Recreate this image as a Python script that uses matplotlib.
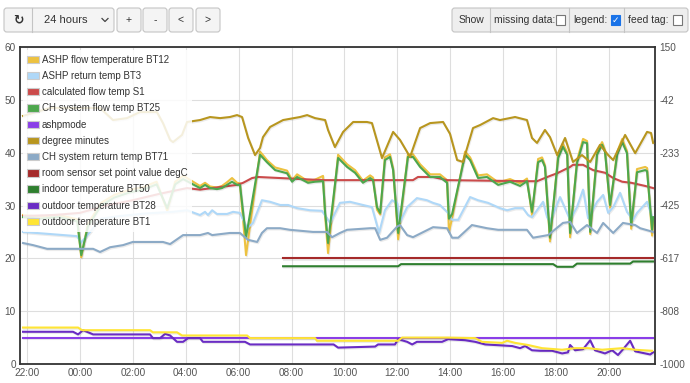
import matplotlib
matplotlib.use("Agg")
import matplotlib.pyplot as plt
import matplotlib.patheffects as pe
from matplotlib.lines import Line2D
from matplotlib.patches import FancyBboxPatch, Patch, Rectangle

plt.rcParams["font.family"] = ["Liberation Sans", "DejaVu Sans"]

# time is in hours after 22:00 of the first day
x_ticks = [0, 2, 4, 6, 8, 10, 12, 14, 16, 18, 20, 22]
x_labels = ["22:00", "00:00", "02:00", "04:00", "06:00", "08:00",
            "10:00", "12:00", "14:00", "16:00", "18:00", "20:00"]
left_ticks = [0, 10, 20, 30, 40, 50, 60]
right_ticks = [-1000, -808, -617, -425, -233, -42, 150]

# flow temperatures (BT12 / BT25) share one time base
flow_t = [-0.15, 0.5, 1.2, 1.9, 2.05, 2.3, 2.8, 3.3, 3.9, 4.4, 4.9, 5.3, 5.6, 5.9,
          6.05, 6.54, 6.73, 6.92, 7.18, 7.37, 7.56, 7.75, 7.94, 8.05, 8.28, 8.81,
          9.07, 9.38, 9.83, 10.02, 10.21, 10.62, 10.89, 11.19, 11.27, 11.38, 11.76,
          12.1, 12.4, 12.7, 12.97, 13.08, 13.23, 13.35, 13.53, 13.72, 13.84, 14.03,
          14.4, 14.59, 14.86, 15.24, 15.61, 15.88, 15.95, 16.07, 16.56, 16.75, 17.05,
          17.39, 17.81, 18.26, 18.64, 18.9, 19.09, 19.32, 19.47, 19.58, 19.77, 20.08,
          20.26, 20.42, 20.53, 20.79, 21.02, 21.17, 21.29, 21.55, 21.74, 21.85, 22.04,
          22.31, 22.5, 22.68, 22.84, 23.06, 23.37, 23.44, 23.63, 23.67]
bt25 = [27.8, 27.5, 27.8, 27.0, 20.6, 26.0, 30.0, 31.5, 32.5, 33.0, 34.0, 29.5, 34.0, 35.0,
        34.6, 33.3, 33.9, 33.3, 33.1, 33.3, 33.9, 34.5, 33.9, 33.9, 24.0, 39.6,
        38.2, 36.7, 36.1, 34.5, 35.4, 34.3, 34.5, 34.6, 28.6, 22.9, 39.0,
        37.3, 36.2, 34.3, 35.2, 34.8, 29.7, 28.6, 38.6, 39.2, 36.7, 24.8,
        39.2, 39.2, 37.3, 35.4, 35.4, 34.3, 27.5, 28.4, 39.6, 38.6, 35.2,
        35.4, 33.9, 34.5, 33.7, 34.6, 28.8, 38.2, 38.6, 37.3, 23.9, 39.0,
        41.1, 39.6, 24.8, 38.0, 42.0, 41.8, 25.0, 39.6, 41.5, 40.1, 30.1,
        39.6, 42.0, 39.9, 26.3, 36.3, 36.7, 36.5, 25.4, 27.8]
bt12 = [28.2, 27.9, 28.2, 27.4, 20.2, 26.5, 30.5, 32.0, 33.0, 33.5, 34.5, 29.0, 34.5, 35.6,
        35.2, 33.7, 34.3, 33.6, 33.4, 33.7, 34.4, 35.2, 34.3, 34.2, 20.6, 40.2,
        38.6, 37.2, 36.6, 34.8, 35.9, 34.6, 34.9, 35.6, 28.0, 21.0, 39.6,
        37.8, 36.7, 34.7, 35.7, 35.3, 29.2, 28.3, 39.1, 39.7, 37.0, 23.6,
        39.7, 39.7, 37.8, 35.9, 35.9, 34.8, 25.0, 27.6, 40.2, 39.1, 35.7,
        35.9, 34.4, 35.0, 34.2, 35.1, 28.2, 38.8, 39.1, 37.6, 23.2, 39.5,
        41.7, 40.0, 24.0, 38.5, 42.6, 42.2, 24.6, 40.1, 42.0, 40.5, 29.6,
        40.1, 42.6, 40.3, 25.6, 36.9, 37.3, 37.1, 24.3, 27.0]

bt3_t = [-0.15, 1.89, 2.05, 2.38, 2.8, 3.5, 4.5, 5.5, 6.05, 6.54, 6.73, 6.84, 7.0, 7.18,
         7.56, 7.79, 8.05, 8.32, 8.54, 8.88, 9.19, 9.57, 9.87, 10.21, 10.7, 11.15,
         11.46, 11.83, 12.21, 12.7, 13.04, 13.31, 13.53, 13.8, 13.99, 14.1, 14.37,
         14.74, 15.12, 15.35, 15.61, 15.92, 16.07, 16.3, 16.75, 17.05, 17.43, 17.88,
         18.15, 18.45, 18.75, 18.94, 19.09, 19.51, 19.66, 19.77, 20.15, 20.53, 20.79,
         21.02, 21.21, 21.55, 21.78, 21.97, 22.16, 22.42, 22.68, 22.91, 23.06, 23.44,
         23.63]
bt3 = [25.0, 24.2, 23.0, 25.0, 27.5, 28.0, 28.5, 28.8, 29.1, 28.2, 28.8, 28.2, 29.1, 28.4,
       28.4, 28.8, 28.6, 25.7, 26.7, 31.0, 30.7, 30.1, 30.1, 29.5, 29.1, 29.0,
       26.7, 30.5, 30.7, 30.1, 29.7, 24.8, 29.1, 31.0, 30.5, 26.9, 29.7,
       31.4, 31.0, 30.5, 30.1, 28.6, 27.3, 27.3, 31.6, 31.0, 30.5, 29.5,
       29.1, 29.5, 29.5, 28.2, 27.8, 30.7, 27.8, 26.9, 31.6, 27.3, 29.7,
       33.0, 27.6, 30.7, 32.0, 28.6, 29.7, 32.4, 28.8, 27.3, 28.6, 30.7,
       27.8]

bt71_t = [-0.15, 0.23, 0.76, 2.5, 2.76, 3.14, 3.63, 4.0, 5.14, 5.41, 5.9, 6.54, 6.84, 7.0,
          7.67, 8.05, 8.36, 8.7, 8.88, 9.07, 9.57, 9.94, 10.81, 11.34, 11.53, 11.83,
          12.1, 12.97, 13.16, 13.35, 13.61, 13.99, 14.1, 14.37, 14.59, 15.35, 15.88,
          16.07, 16.3, 16.82, 17.39, 17.81, 18.9, 19.13, 19.7, 20.26, 20.53, 20.79,
          21.17, 21.55, 21.78, 22.16, 22.53, 22.99, 23.18, 23.67]
bt71 = [22.9, 22.5, 21.8, 21.8, 21.2, 22.1, 22.5, 23.1, 23.1, 22.7, 24.4, 24.4, 24.8, 24.4,
        24.8, 24.8, 23.5, 23.1, 24.8, 25.7, 25.7, 25.4, 25.0, 25.0, 24.0, 24.8,
        25.4, 25.7, 25.7, 23.5, 23.9, 26.0, 26.3, 24.4, 24.0, 25.9, 25.7,
        23.9, 23.9, 26.3, 25.7, 25.4, 25.4, 23.9, 24.4, 26.7, 26.9, 24.8,
        26.3, 24.8, 26.7, 24.8, 26.7, 26.3, 25.7, 25.0]

s1_t = [-0.15, 1.0, 2.0, 3.0, 4.0, 5.0, 6.05, 6.54, 7.3, 7.94, 8.17, 8.51, 8.73, 11.19,
        14.59, 14.78, 15.35, 15.88, 18.9, 19.28, 19.77, 20.04, 20.53, 20.64, 21.02,
        21.4, 21.85, 22.16, 22.5, 22.84, 23.37, 23.67]
s1 = [28.0, 28.2, 28.6, 30.0, 31.0, 32.2, 33.3, 33.0, 33.5, 33.9, 34.3, 35.2, 35.4, 34.8,
      34.8, 35.4, 35.4, 34.8, 34.6, 34.6, 35.6, 36.1, 37.3, 37.7, 37.7,
      36.7, 36.2, 35.2, 34.5, 34.3, 33.7, 33.3]

dm_t = [-0.15, 0.87, 2.76, 3.25, 3.78, 4.27, 4.91, 5.14, 5.41, 5.52, 5.86, 6.05, 6.54,
        6.92, 7.3, 7.67, 7.94, 8.13, 8.36, 8.62, 8.81, 8.92, 9.19, 9.68, 10.32, 10.59,
        10.89, 11.27, 11.38, 11.64, 11.95, 12.33, 12.85, 13.04, 13.42, 13.84, 14.1,
        14.48, 14.86, 15.24, 15.73, 15.99, 16.26, 16.48, 16.86, 17.13, 17.62, 17.88,
        18.45, 18.9, 19.09, 19.28, 19.58, 19.77, 20.04, 20.34, 20.64, 20.98, 21.29,
        21.66, 21.97, 22.16, 22.61, 22.99, 23.44, 23.59, 23.67]
degree_minutes = [-100, -71, -71, -115, -108, -86, -86, -126, -187, -195, -169, -122, -115,
                  -104, -108, -104, -97, -104, -180, -242, -216, -177, -140, -115, -104, -97,
                  -108, -115, -151, -213, -158, -122, -122, -126, -253, -158, -187,
                  -249, -144, -126, -122, -165, -260, -267, -144, -133, -108, -115,
                  -104, -115, -180, -198, -151, -177, -242, -180, -267, -242, -267,
                  -205, -242, -260, -169, -235, -158, -162, -198]

setpoint_t = [9.68, 23.67]
setpoint = [20.0, 20.0]

bt50_t = [9.68, 14.03, 14.14, 19.89, 20.04, 20.64, 20.79, 22.8, 22.91, 23.67]
bt50 = [18.5, 18.5, 18.9, 18.9, 18.4, 18.4, 19.0, 19.0, 19.4, 19.4]

ashp_t = [-0.15, 23.67]
ashpmode = [5.0, 5.0]

bt1_t = [-0.15, 1.93, 2.08, 4.65, 4.76, 5.67, 5.86, 8.32, 8.43, 10.89, 10.96, 14.03,
         14.18, 15.92, 16.94, 17.2, 17.96, 18.15, 18.45, 18.94, 19.47, 20.23, 20.72,
         21.21, 21.74, 22.5, 22.99, 23.63]
bt1 = [6.9, 6.9, 6.4, 6.4, 6.0, 6.0, 5.4, 5.4, 4.9, 4.9, 4.4, 4.4,
       5.0, 5.0, 4.9, 4.2, 4.0, 4.4, 4.0, 3.6, 3.0, 2.7, 3.0,
       3.0, 2.7, 3.0, 2.7, 2.5]

bt28_t = [-0.15, 1.74, 1.93, 2.12, 2.5, 4.65, 4.76, 5.03, 5.22, 5.41, 5.67, 5.9, 6.09,
          6.54, 6.65, 8.24, 8.43, 11.59, 11.76, 13.16, 13.27, 13.91, 14.03, 14.37,
          14.56, 14.74, 15.69, 15.92, 16.56, 16.94, 17.32, 18.34, 18.64, 18.83, 19.09,
          19.4, 19.85, 20.23, 20.45, 20.53, 20.72, 21.02, 21.29, 21.47, 21.85, 22.12,
          22.34, 22.5, 22.8, 22.99, 23.37, 23.56, 23.67]
bt28 = [6.1, 6.1, 5.6, 6.4, 5.6, 5.6, 4.9, 4.9, 5.7, 5.4, 4.2, 4.2, 4.9,
        4.9, 4.2, 4.2, 3.7, 3.7, 3.1, 3.3, 3.7, 3.7, 4.7, 4.2,
        3.7, 4.2, 4.2, 4.7, 4.5, 4.2, 3.7, 3.4, 3.0, 3.4, 2.6,
        2.5, 2.5, 2.0, 2.2, 3.6, 2.6, 2.8, 4.5, 2.6, 2.0, 2.6,
        1.7, 2.6, 4.4, 2.4, 2.0, 1.8, 2.2]

W, H = 690, 383
fig = plt.figure(figsize=(W / 100, H / 100), dpi=100)


def fig_box(x0, y0, x1, y1):
    # pixel box (top-left origin) -> figure fraction (l, b, w, h)
    return x0 / W, 1 - y1 / H, (x1 - x0) / W, (y1 - y0) / H


def box(x0, x1, face, y0=8, y1=32, edge="#c4c4c4"):
    l, b, w, h = fig_box(x0, y0, x1, y1)
    fig.patches.append(FancyBboxPatch(
        (l, b), w, h, boxstyle="round,pad=0,rounding_size=0.004",
        mutation_aspect=W / H, transform=fig.transFigure,
        facecolor=face, edgecolor=edge, lw=0.8))


def label(x, text, size=7.5, ha="center", y=20, **kw):
    fig.text(x / W, 1 - y / H, text, ha=ha, va="center", fontsize=size,
             color="#333333", **kw)


def checkbox(x, checked=False):
    l, b, w, h = fig_box(x, 15.5, x + 9, 24.5)
    face = "#1a73e8" if checked else "white"
    edge = "#1a73e8" if checked else "#767676"
    fig.patches.append(Rectangle((l, b), w, h, transform=fig.transFigure,
                                 facecolor=face, edgecolor=edge, lw=0.8))
    if checked:
        fig.text((x + 4.5) / W, 1 - 20 / H, "\u2713", ha="center", va="center",
                 fontsize=6.5, color="white", family="DejaVu Sans", weight="bold")


# toolbar left
box(4, 114, "#f4f4f4")
fig.lines.append(Line2D([32 / W, 32 / W], [1 - 8 / H, 1 - 32 / H],
                        transform=fig.transFigure, color="#c4c4c4", lw=0.8))
label(18, "\u21bb", size=9, family="DejaVu Sans", weight="bold")
label(44, "24 hours", size=8, ha="left")
fig.lines.append(Line2D([102 / W, 105 / W, 108 / W],
                        [1 - 18.5 / H, 1 - 21.5 / H, 1 - 18.5 / H],
                        transform=fig.transFigure, color="#444444", lw=0.9))
for cx, sym in [(129, "+"), (155, "-"), (181, "<"), (208, ">")]:
    box(cx - 12, cx + 12, "#f4f4f4")
    label(cx, sym)

# toolbar right
box(452, 688, "#eeeeee")
for xd in [490, 569, 624]:
    fig.lines.append(Line2D([xd / W, xd / W], [1 - 8 / H, 1 - 32 / H],
                            transform=fig.transFigure, color="#c4c4c4", lw=0.8))
label(471, "Show")
label(494, "missing data:", ha="left")
checkbox(556)
label(573, "legend:", ha="left")
checkbox(611, checked=True)
label(628, "feed tag:", ha="left")
checkbox(673)

# chart
ax = fig.add_axes(fig_box(20, 47, 655, 364))
ax2 = ax.twinx()

shadow = [pe.SimpleLineShadow(offset=(0.6, -0.9), alpha=0.08), pe.Normal()]
series = [
    (ax, flow_t, bt12, "#edc240", "ASHP flow temperature BT12"),
    (ax, bt3_t, bt3, "#afd8f8", "ASHP return temp BT3"),
    (ax, s1_t, s1, "#cb4b4b", "calculated flow temp S1"),
    (ax, flow_t, bt25, "#4da74d", "CH system flow temp BT25"),
    (ax, ashp_t, ashpmode, "#8a3ee8", "ashpmode"),
    (ax2, dm_t, degree_minutes, "#b8961f", "degree minutes"),
    (ax, bt71_t, bt71, "#8caac6", "CH system return temp BT71"),
    (ax, setpoint_t, setpoint, "#a52a2a", "room sensor set point value degC"),
    (ax, bt50_t, bt50, "#2f7f2f", "indoor temperature BT50"),
    (ax, bt28_t, bt28, "#6a2cc4", "outdoor temperature BT28"),
    (ax, bt1_t, bt1, "#ffe535", "outdoor temperature BT1"),
]
handles = []
for target, t, v, color, name in series:
    target.plot(t, v, color=color, lw=1.5, path_effects=shadow, solid_joinstyle="round")
    handles.append(Patch(facecolor=color, edgecolor="#cccccc", lw=0.8, label=name))

ax.set_xlim(-0.265, 23.74)
ax.set_ylim(0, 60)
ax2.set_ylim(-1000, 150)
ax.set_xticks(x_ticks)
ax.set_xticklabels(x_labels)
ax.set_yticks(left_ticks)
ax2.set_yticks(right_ticks)
ax2.set_yticklabels([str(v) for v in right_ticks])

ax.grid(color="#dedede", lw=0.8)
ax.set_axisbelow(True)
for a in (ax, ax2):
    a.tick_params(length=0, labelsize=7.2, labelcolor="#545454", pad=3)
for s in ax.spines.values():
    s.set_color("#333333")
    s.set_linewidth(1.3)
for s in ax2.spines.values():
    s.set_visible(False)

leg = ax2.legend(handles=handles, loc="upper left", bbox_to_anchor=(0.004, 0.991),
                 borderaxespad=0, fontsize=7, frameon=True, fancybox=False,
                 framealpha=0.85, facecolor="white", edgecolor="none",
                 handlelength=1.2, handleheight=0.8, handletextpad=0.3,
                 labelspacing=0.64, borderpad=0.5)
for txt in leg.get_texts():
    txt.set_color("#333333")
leg.set_zorder(10)

fig.savefig("out.png", dpi=100)
